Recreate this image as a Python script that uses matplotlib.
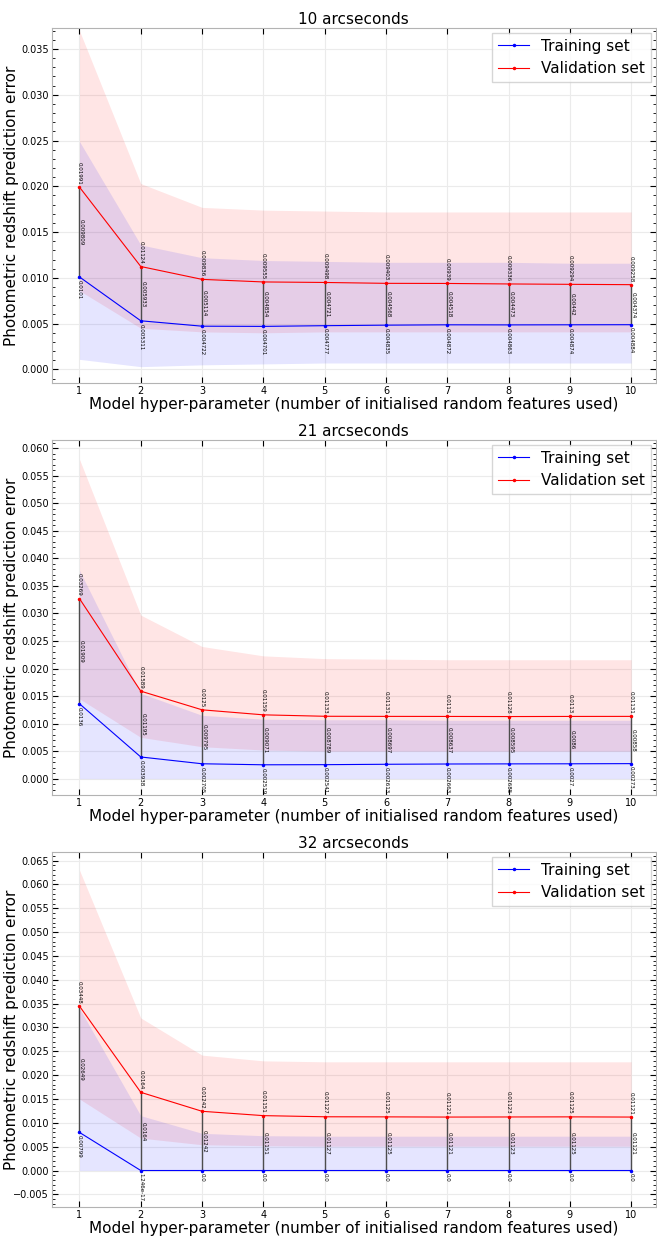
import matplotlib
matplotlib.use("Agg")
import matplotlib.pyplot as plt
from matplotlib.ticker import AutoMinorLocator, MultipleLocator

features = [1, 2, 3, 4, 5, 6, 7, 8, 9, 10]
titles = ["10 arcseconds", "21 arcseconds", "32 arcseconds"]

# mean prediction error per hyper-parameter value
train_10 = [0.0101, 0.005311, 0.004722, 0.004701, 0.004777, 0.004835, 0.004872, 0.004863, 0.004874, 0.004884]
valid_10 = [0.01991, 0.01124, 0.009836, 0.009555, 0.009498, 0.009403, 0.00939, 0.009336, 0.009294, 0.009258]
gap_10 = [0.009809, 0.005933, 0.005114, 0.004854, 0.004721, 0.004568, 0.004518, 0.004473, 0.00442, 0.004374]

train_21 = [0.0136, 0.003938, 0.002705, 0.002519, 0.002541, 0.002613, 0.002663, 0.002685, 0.0027, 0.00273]
valid_21 = [0.03269, 0.01589, 0.0125, 0.01159, 0.01133, 0.01131, 0.0113, 0.01128, 0.0113, 0.01131]
gap_21 = [0.01909, 0.01195, 0.009795, 0.009071, 0.008789, 0.008697, 0.008637, 0.008595, 0.0086, 0.00858]

train_32 = [0.00799, 1.246e-17, 0.0, 0.0, 0.0, 0.0, 0.0, 0.0, 0.0, 0.0]
valid_32 = [0.03448, 0.0164, 0.01242, 0.01151, 0.01127, 0.01125, 0.01121, 0.01123, 0.01125, 0.01121]
gap_32 = [0.02649, 0.0164, 0.01242, 0.01151, 0.01127, 0.01125, 0.01121, 0.01123, 0.01125, 0.01121]

# spread of the error (shaded bands)
train_lo_10 = [0.0011, 0.0003, 0.0005, 0.0006, 0.0007, 0.0007, 0.0007, 0.0007, 0.0007, 0.0007]
train_hi_10 = [0.0249, 0.0136, 0.0122, 0.0119, 0.0118, 0.0117, 0.0117, 0.0117, 0.0116, 0.0116]
valid_lo_10 = [0.0086, 0.0045, 0.0041, 0.0040, 0.0041, 0.0041, 0.0041, 0.0041, 0.0041, 0.0041]
valid_hi_10 = [0.0370, 0.0203, 0.0177, 0.0174, 0.0173, 0.0172, 0.0172, 0.0172, 0.0172, 0.0172]

train_lo_21 = [0.0, 0.0, 0.0, 0.0, 0.0, 0.0, 0.0, 0.0, 0.0, 0.0]
train_hi_21 = [0.0378, 0.0155, 0.0115, 0.0108, 0.0107, 0.0107, 0.0106, 0.0106, 0.0106, 0.0106]
valid_lo_21 = [0.0145, 0.0075, 0.0058, 0.0052, 0.0050, 0.0050, 0.0050, 0.0050, 0.0050, 0.0050]
valid_hi_21 = [0.0580, 0.0297, 0.0240, 0.0223, 0.0218, 0.0217, 0.0216, 0.0216, 0.0216, 0.0216]

train_lo_32 = [0.0, 0.0, 0.0, 0.0, 0.0, 0.0, 0.0, 0.0, 0.0, 0.0]
train_hi_32 = [0.0340, 0.0115, 0.0078, 0.0073, 0.0072, 0.0072, 0.0072, 0.0072, 0.0072, 0.0072]
valid_lo_32 = [0.0150, 0.0068, 0.0054, 0.0052, 0.0051, 0.0051, 0.0051, 0.0051, 0.0051, 0.0051]
valid_hi_32 = [0.0630, 0.0320, 0.0242, 0.0230, 0.0228, 0.0228, 0.0228, 0.0228, 0.0228, 0.0228]

ylims = [(-0.0015, 0.0373), (-0.003, 0.0615), (-0.0077, 0.0668)]


def plot_panel(ax, title, train, valid, gap, train_lo, train_hi, valid_lo, valid_hi, ylim):
    ax.fill_between(features, valid_lo, valid_hi, color='red', alpha=0.1, lw=0)
    ax.fill_between(features, train_lo, train_hi, color='blue', alpha=0.1, lw=0)

    # vertical bar showing the train/validation gap
    tops = [t + g for t, g in zip(train, gap)]
    ax.vlines(features, train, tops, color='0.3', lw=1.0, zorder=2)

    ax.plot(features, train, 'b.-', lw=0.8, ms=3, label='Training set', zorder=3)
    ax.plot(features, valid, 'r.-', lw=0.8, ms=3, label='Validation set', zorder=3)

    for x, t, v, g in zip(features, train, valid, gap):
        ax.annotate(format(v, '.4'), (x, v), xytext=(0, 2), textcoords='offset points',
                    rotation=270, fontsize=4, ha='center', va='bottom')
        ax.annotate(format(g, '.4'), (x, t + g / 2), xytext=(1.5, 0), textcoords='offset points',
                    rotation=270, fontsize=4, ha='center', va='center')
        ax.annotate(format(t, '.4'), (x, t), xytext=(0, -2), textcoords='offset points',
                    rotation=270, fontsize=4, ha='center', va='top')

    ax.set_title(title, fontsize=11, pad=3)
    ax.set_xlabel('Model hyper-parameter (number of initialised random features used)', fontsize=11, labelpad=1)
    ax.set_ylabel('Photometric redshift prediction error', fontsize=11)
    ax.yaxis.set_label_coords(-0.054, 0.5)
    ax.set_xlim(0.55, 10.4)
    ax.set_ylim(*ylim)
    ax.set_xticks(features)
    ax.yaxis.set_major_locator(MultipleLocator(0.005))
    ax.yaxis.set_minor_locator(AutoMinorLocator(5))
    ax.tick_params(which='both', direction='in', top=True, right=True, labelsize=7, pad=2)
    ax.tick_params(which='major', length=4)
    ax.tick_params(which='minor', length=2)
    for spine in ax.spines.values():
        spine.set_color('0.7')
    ax.grid(True, color='0.92', lw=0.8)
    ax.set_axisbelow(True)
    ax.legend(loc='upper right', fontsize=11, borderaxespad=0.3, fancybox=False, edgecolor='0.8')


fig, axes = plt.subplots(3, 1, figsize=(6.57, 12.42), dpi=100)
fig.subplots_adjust(left=0.079, right=0.998, top=0.9775, bottom=0.028, hspace=0.16)

plot_panel(axes[0], titles[0], train_10, valid_10, gap_10, train_lo_10, train_hi_10, valid_lo_10, valid_hi_10, ylims[0])
plot_panel(axes[1], titles[1], train_21, valid_21, gap_21, train_lo_21, train_hi_21, valid_lo_21, valid_hi_21, ylims[1])
plot_panel(axes[2], titles[2], train_32, valid_32, gap_32, train_lo_32, train_hi_32, valid_lo_32, valid_hi_32, ylims[2])

fig.savefig('out.png', dpi=100)
